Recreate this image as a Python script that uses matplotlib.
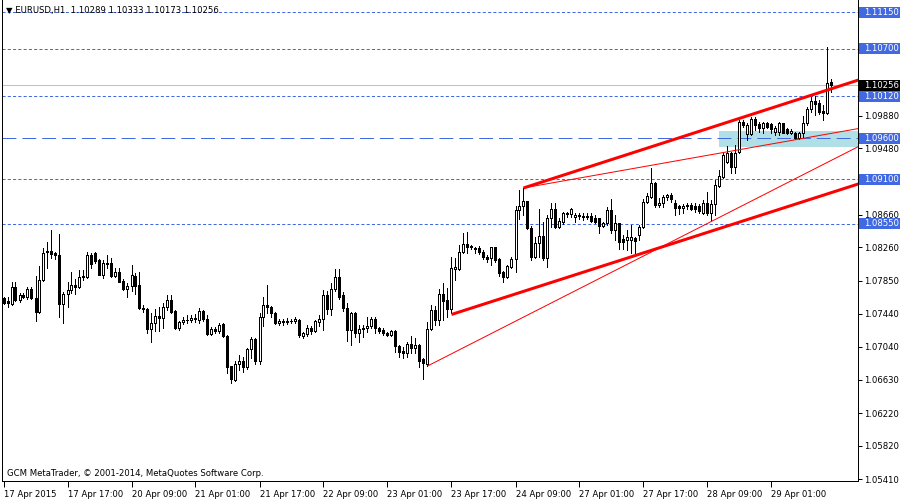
import numpy as np
import matplotlib
matplotlib.use("Agg")
import matplotlib.pyplot as plt
from matplotlib.patches import Rectangle
import matplotlib.transforms as mtransforms

plt.rcParams['font.family'] = ['DejaVu Sans']
plt.rcParams['lines.scale_dashes'] = False

# ---------------- data (prices in points, 1 point = 0.00001) ----------------
opens_pts = [
    107637,107600,107563,107772,107612,107673,107649,107747,107637,107464,
    107858,108215,108215,108190,108165,107563,107686,107735,107796,107772,
    107895,107895,108165,108190,108104,107919,108067,108067,107907,107956,
    107846,107747,107784,107907,107796,107514,107501,107255,107329,107415,
    107391,107526,107612,107477,107268,107341,107360,107366,107378,107366,
    107477,107378,107194,107255,107231,107317,107169,106800,106628,106825,
    106862,106788,107009,107132,106862,107403,107550,107526,107452,107329,
    107354,107341,107354,107354,107366,107169,107194,107268,107231,107341,
    107378,107673,107501,107747,107895,107673,107514,107243,107452,107206,
    107255,107268,107292,107378,107268,107243,107206,107181,107231,107046,
    106985,106960,107071,107022,107058,106887,106825,107255,107489,107366,
    107686,107612,107501,107993,107993,108202,108301,108276,108239,108252,
    108202,108141,108129,108264,108116,107956,107895,108018,108116,108719,
    108768,108830,108498,108141,108313,108399,108129,108620,108731,108510,
    108571,108682,108670,108633,108657,108645,108633,108645,108620,108620,
    108522,108559,108719,108473,108559,108362,108350,108350,108375,108411,
    108510,108817,108879,109051,108781,108805,108879,108903,108805,108768,
    108743,108768,108780,108768,108768,108682,108805,108682,108793,109014,
    109125,109309,109420,109248,109432,109801,109654,109654,109838,109777,
    109728,109789,109777,109679,109679,109789,109716,109666,109666,109605,
    109666,109789,109961,110060,110035,109937,109912,110289]
highs_pts = [
    107649,107649,107833,107833,107698,107698,107772,107772,107907,108030,
    108252,108325,108473,108202,108424,107710,107833,107956,107870,107981,
    107981,108202,108190,108202,108116,108104,108165,108129,108006,108006,
    107870,107821,108042,107944,107956,107550,107514,107452,107501,107526,
    107575,107673,107673,107490,107354,107403,107427,107427,107440,107514,
    107489,107427,107280,107280,107329,107329,107181,106800,106862,106935,
    106911,107022,107157,107140,107452,107649,107796,107538,107464,107378,
    107378,107391,107378,107403,107378,107218,107304,107292,107366,107427,
    107735,107723,107821,107993,107993,107710,107575,107464,107460,107304,
    107304,107403,107403,107403,107275,107268,107218,107243,107243,107058,
    107034,107095,107169,107145,107071,106899,107341,107550,107538,107747,
    107821,107760,108141,108129,108288,108436,108448,108288,108264,108276,
    108227,108165,108270,108270,108129,107969,108042,108141,108768,108965,
    108990,108835,108522,108387,108731,108571,108657,108805,108805,108620,
    108694,108694,108743,108682,108682,108682,108682,108682,108657,108625,
    108571,108756,108854,108657,108565,108412,108473,108534,108387,108534,
    108854,108928,109236,109063,108866,108903,108916,108928,108842,108780,
    108793,108805,108805,108805,108793,108842,108940,108842,109088,109211,
    109420,109506,109432,109518,109826,109826,109789,109863,109863,109801,
    109801,109801,109789,109752,109801,109795,109728,109716,109679,109679,
    109875,109986,110109,110121,110072,110011,110724,110333]
lows_pts = [
    107563,107526,107550,107600,107587,107637,107624,107624,107354,107452,
    107846,108006,108129,108116,107403,107329,107526,107698,107686,107760,
    107858,107883,108006,108067,107919,107883,108006,107895,107895,107833,
    107735,107649,107723,107686,107501,107464,107206,107095,107231,107231,
    107268,107489,107452,107255,107243,107317,107329,107341,107341,107329,
    107354,107185,107181,107206,107206,107157,106714,106591,106616,106751,
    106726,106763,106899,106825,106825,107292,107452,107403,107317,107304,
    107304,107317,107329,107329,107157,107145,107169,107194,107218,107292,
    107243,107440,107427,107723,107624,107477,107108,107058,107157,107095,
    107157,107218,107268,107206,107206,107181,107169,107169,106972,106911,
    106899,106911,106960,106960,106788,106640,106800,107243,107304,107304,
    107366,107403,107452,107858,107981,108195,108190,108239,108190,108178,
    108116,108080,108042,108080,107907,107833,107883,108006,107956,108608,
    108657,108485,108104,108129,108141,108104,108018,108510,108498,108498,
    108547,108633,108633,108571,108608,108596,108608,108571,108559,108436,
    108510,108534,108436,108350,108239,108239,108227,108190,108178,108350,
    108498,108805,108866,108756,108756,108756,108842,108817,108657,108670,
    108682,108731,108719,108694,108682,108675,108657,108596,108657,109002,
    109118,109297,109174,109174,109425,109740,109580,109642,109703,109679,
    109666,109728,109666,109642,109642,109660,109654,109654,109593,109593,
    109617,109765,109924,109888,109900,109826,109900,110173]
closes_pts = [
    107575,107575,107772,107612,107673,107649,107747,107637,107464,107858,
    108190,108202,108178,108165,107563,107686,107735,107796,107772,107895,
    107907,108165,108055,108092,107919,108067,108055,107907,107956,107833,
    107747,107784,107919,107784,107514,107501,107255,107329,107415,107391,
    107526,107612,107464,107268,107341,107366,107372,107391,107391,107477,
    107378,107194,107255,107231,107304,107169,106788,106640,106825,106862,
    106788,107009,107132,106862,107403,107550,107526,107452,107329,107354,
    107341,107354,107348,107378,107181,107206,107268,107231,107354,107378,
    107673,107501,107747,107895,107649,107514,107243,107452,107206,107255,
    107268,107292,107378,107268,107231,107206,107181,107231,107046,106972,
    106960,107071,107022,107058,106862,106837,107255,107489,107366,107686,
    107600,107501,108006,108018,108202,108301,108264,108264,108252,108202,
    108141,108116,108264,108104,107944,107895,108030,108116,108719,108768,
    108830,108498,108141,108313,108399,108129,108620,108731,108510,108584,
    108682,108670,108731,108657,108645,108633,108645,108584,108571,108522,
    108559,108719,108473,108559,108325,108325,108387,108387,108338,108510,
    108817,108891,109051,108781,108805,108879,108903,108854,108743,108743,
    108768,108780,108731,108731,108707,108805,108682,108793,109026,109137,
    109395,109420,109248,109420,109801,109765,109765,109838,109765,109728,
    109789,109740,109716,109728,109789,109666,109666,109691,109605,109666,
    109789,109961,110060,110023,109924,109912,110281,110256]

x_tick_bars = [0, 16, 32, 48, 64, 80, 96, 112, 128, 144, 160, 176, 192]
x_tick_labels = ['17 Apr 2015', '17 Apr 17:00', '20 Apr 09:00', '21 Apr 01:00',
                 '21 Apr 17:00', '22 Apr 09:00', '23 Apr 01:00', '23 Apr 17:00',
                 '24 Apr 09:00', '27 Apr 01:00', '27 Apr 17:00', '28 Apr 09:00',
                 '29 Apr 01:00']
y_ticks = [1.05410, 1.05820, 1.06220, 1.06630, 1.07040, 1.07440, 1.07850,
           1.08260, 1.08660, 1.09070, 1.09480, 1.09880, 1.10290, 1.10700, 1.11100]
y_hidden_labels = [1.09070, 1.10290, 1.10700, 1.11100]   # covered by price boxes
level_lines = [1.11150, 1.10700, 1.10120, 1.09100, 1.08550]
support_level = 1.09600
bid_price = 1.10256
title_text = '\u25bc EURUSD,H1  1.10289 1.10333 1.10173 1.10256'
footer_text = 'GCM MetaTrader, \u00a9 2001-2014, MetaQuotes Software Corp.'

# zone rectangle: start bar, low price, high price
zone_start_bar = 179
zone_low, zone_high = 1.09494, 1.09690

# trend lines: (bar1, price1, bar2, price2, thick)
trend_lines = [
    (130, 1.08990, 213.75, 1.10318, True),
    (130, 1.08990, 213.75, 1.09721, False),
    (112, 1.07434, 213.75, 1.09040, True),
    (106, 1.06800, 213.75, 1.09500, False),
]

# ---------------- figure ----------------
o = np.array(opens_pts) / 1e5
h = np.array(highs_pts) / 1e5
l = np.array(lows_pts) / 1e5
c = np.array(closes_pts) / 1e5
n = len(o)
idx = np.arange(n)

FS = 6.1
PX = 72 / 100.0   # one pixel in points

fig = plt.figure(figsize=(9, 5), dpi=100)
fig.patch.set_facecolor('white')
ax = fig.add_axes([2 / 900, 19 / 500, 856 / 900, 481 / 500])
ax.set_xlim(-0.375, 213.625)
ax.set_ylim(1.053857, 1.11302)

blue = '#4169E1'
# zone
ax.add_patch(Rectangle((zone_start_bar, zone_low), 300, zone_high - zone_low,
                       facecolor='#B0E0E6', edgecolor='none', zorder=0.5))
# horizontal levels
for p in level_lines:
    ax.axhline(p, color=blue, linewidth=PX, dashes=(2.2, 1.6), zorder=1)
ax.axhline(support_level, color=blue, linewidth=PX, dashes=(10, 4.3), zorder=1)
ax.axhline(bid_price, color='#C0C0C0', linewidth=PX, zorder=1)

# candles
up = c >= o
ax.vlines(idx, l, h, color='black', linewidth=PX, antialiased=False, zorder=3)
bottoms = np.minimum(o, c)
heights = np.abs(c - o)
ax.bar(idx[up], heights[up], bottom=bottoms[up], width=0.5, facecolor='white',
       edgecolor='black', linewidth=PX, zorder=4, antialiased=False)
ax.bar(idx[~up], heights[~up], bottom=bottoms[~up], width=0.5, facecolor='black',
       edgecolor='black', linewidth=PX, zorder=4, antialiased=False)

# trend lines
for b1, p1, b2, p2, thick in trend_lines:
    ax.plot([b1, b2], [p1, p2], color='#FF0000',
            linewidth=3 * PX if thick else PX, solid_capstyle='butt', zorder=5)

# axes styling
ax.spines['top'].set_visible(False)
for s in ['left', 'right', 'bottom']:
    ax.spines[s].set_linewidth(PX)
    ax.spines[s].set_color('black')
ax.yaxis.tick_right()
ax.set_yticks(y_ticks)
ax.set_yticklabels(['' if v in y_hidden_labels else '%.5f' % v for v in y_ticks])
ax.tick_params(axis='y', direction='out', length=3, width=PX, pad=1.5,
               labelsize=FS, colors='black')
ax.set_xticks(x_tick_bars)
ax.set_xticklabels(x_tick_labels, ha='left')
ax.tick_params(axis='x', direction='out', length=4, width=PX, pad=2.5,
               labelsize=FS, colors='black')

# price labels on the right
trans = mtransforms.blended_transform_factory(ax.transAxes, ax.transData)
box_h = 0.00135
for p in level_lines + [support_level]:
    ax.add_patch(Rectangle((1.0015, p - box_h / 2), 0.06, box_h, transform=trans,
                           facecolor=blue, edgecolor='none', clip_on=False, zorder=10))
    ax.text(1.0068, p, '%.5f' % p, transform=trans, ha='left', va='center',
            color='white', fontsize=FS, zorder=11, clip_on=False)
ax.add_patch(Rectangle((1.0015, bid_price - box_h / 2), 0.06, box_h, transform=trans,
                       facecolor='black', edgecolor='none', clip_on=False, zorder=10))
ax.text(1.0068, bid_price, '%.5f' % bid_price, transform=trans, ha='left', va='center',
        color='white', fontsize=FS, zorder=11, clip_on=False)

fig.text(6 / 900, 1 - 10 / 500, title_text, fontsize=FS, va='center', ha='left',
         color='black')
fig.text(7 / 900, 1 - 474 / 500, footer_text, fontsize=FS, va='center', ha='left',
         color='black')

fig.savefig('out.png', dpi=100, facecolor='white')
